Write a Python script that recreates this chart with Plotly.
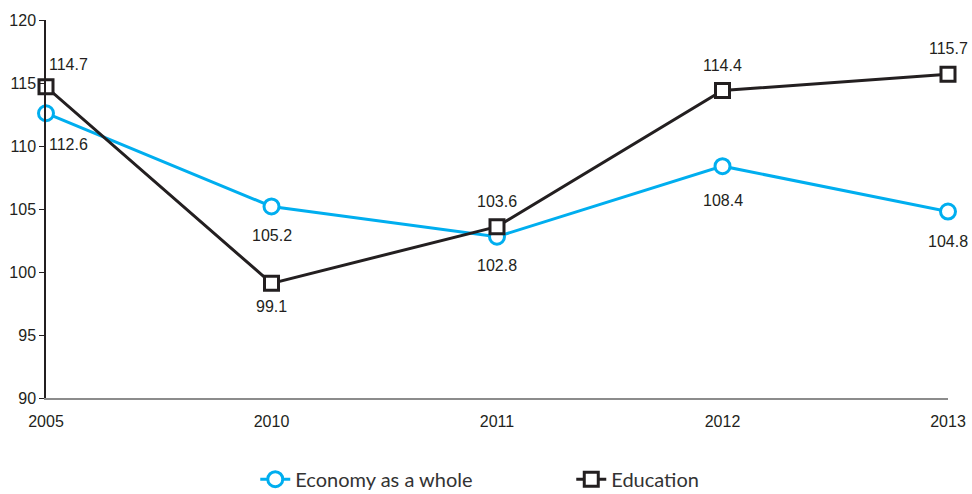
import plotly.graph_objects as go

years = ["2005", "2010", "2011", "2012", "2013"]
economy = [112.6, 105.2, 102.8, 108.4, 104.8]
education = [114.7, 99.1, 103.6, 114.4, 115.7]
# label placement: vertical offset in px (negative = below), horizontal offset in px
economy_dy = [-31, -29, -29, -34, -30]
economy_dx = [22, 0, 0, 0, 0]
education_dy = [22, -23, 25, 25, 26]
education_dx = [22, 0, 0, 0, 0]

BLUE = "#00aeef"
BLACK = "#231f20"
FONT = "Liberation Sans Narrow, Liberation Sans, Arial, sans-serif"

fig = go.Figure()
fig.add_trace(go.Scatter(
    x=years, y=economy, name="Economy as a whole",
    mode="lines+markers",
    line=dict(color=BLUE, width=3),
    marker=dict(symbol="circle", size=15, color="white", line=dict(color=BLUE, width=3)),
    cliponaxis=False,
))
fig.add_trace(go.Scatter(
    x=years, y=education, name="Education",
    mode="lines+markers",
    line=dict(color=BLACK, width=3),
    marker=dict(symbol="square", size=14, color="white", line=dict(color=BLACK, width=3)),
    cliponaxis=False,
))

for series, dys, dxs in [(economy, economy_dy, economy_dx), (education, education_dy, education_dx)]:
    for i, (yv, dy, dx) in enumerate(zip(series, dys, dxs)):
        fig.add_annotation(x=i, y=yv, xref="x", yref="y", text=f"{yv:.1f}", showarrow=False,
                           xshift=dx, yshift=dy,
                           font=dict(family=FONT, size=16, color=BLACK))

fig.update_layout(
    width=972, height=494,
    margin=dict(l=46, r=24, t=20, b=96),
    plot_bgcolor="white", paper_bgcolor="white",
    font=dict(family=FONT, size=16, color=BLACK),
    showlegend=True,
    legend=dict(orientation="h", x=0.232, xanchor="left",
                yref="container", y=0.03, yanchor="middle",
                font=dict(family="Lato, Open Sans, sans-serif", size=20, color="#333333"),
                entrywidth=271, entrywidthmode="pixels", tracegroupgap=0),
    xaxis=dict(type="category", showgrid=False, zeroline=False, automargin=False,
               showline=True, linecolor="#8c8c8c", linewidth=2,
               ticks="", range=[0, 4], tickfont=dict(size=16), ticklabelstandoff=8),
    yaxis=dict(range=[90, 120], dtick=5, showgrid=False, zeroline=False, automargin=False,
               showline=True, linecolor=BLACK, linewidth=1.5,
               ticks="outside", ticklen=5, tickcolor=BLACK, tickwidth=1,
               tickfont=dict(size=16)),
)

fig.write_html("out.html",
               config={"displayModeBar": False},
               post_script="document.body.style.margin='0';document.body.style.overflow='hidden';")
